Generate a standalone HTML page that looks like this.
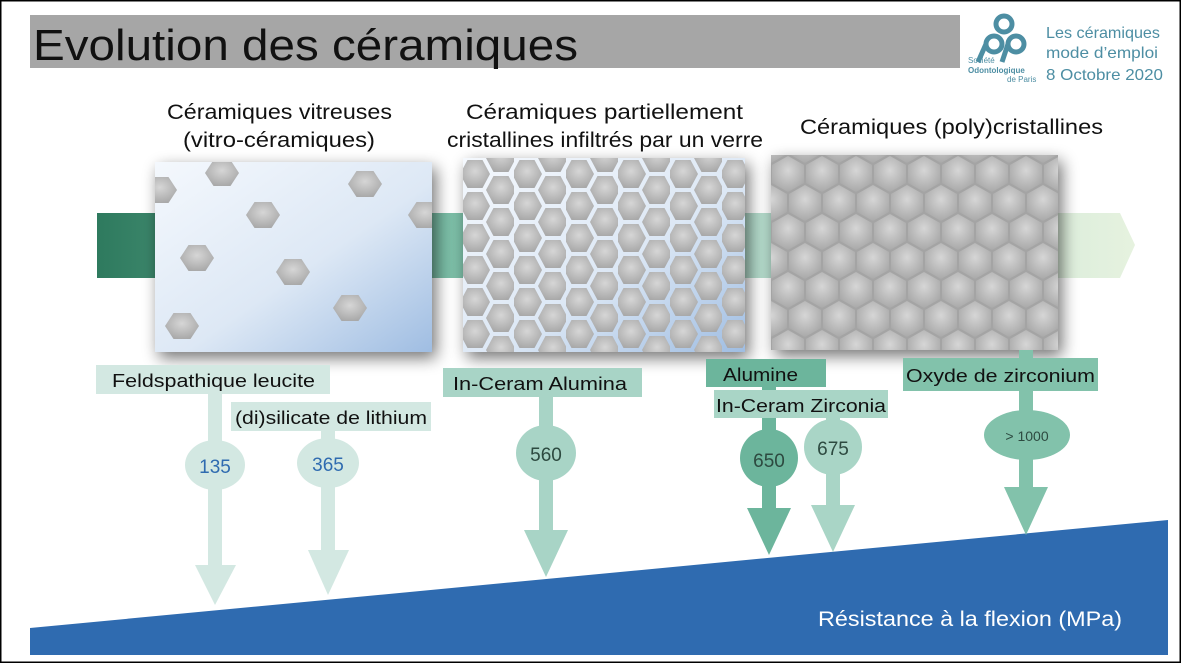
<!DOCTYPE html>
<html><head><meta charset="utf-8"><style>
html,body{margin:0;padding:0;background:#fff}
svg{display:block}
text{font-family:"Liberation Sans",sans-serif}
</style></head><body>
<svg width="1181" height="663" viewBox="0 0 1181 663" xmlns="http://www.w3.org/2000/svg">
<defs>
<radialGradient id="hg" cx="50%" cy="40%" r="60%"><stop offset="0" stop-color="#d6d6d6"/><stop offset="1" stop-color="#a9a9a9"/></radialGradient>
<linearGradient id="band" x1="0" x2="1"><stop offset="0" stop-color="#2e7a5e"/><stop offset="0.35" stop-color="#7dbfa8"/><stop offset="0.7" stop-color="#bfe0d2"/><stop offset="1" stop-color="#e6f2df"/></linearGradient>
<linearGradient id="blue1" x1="0" y1="0" x2="1" y2="1"><stop offset="0" stop-color="#f4f8fd"/><stop offset="0.55" stop-color="#dde8f5"/><stop offset="1" stop-color="#9fbde2"/></linearGradient>
<filter id="sh" x="-20%" y="-20%" width="140%" height="140%"><feGaussianBlur in="SourceAlpha" stdDeviation="8"/><feOffset dx="4" dy="6"/><feComponentTransfer><feFuncA type="linear" slope="0.55"/></feComponentTransfer><feMerge><feMergeNode/><feMergeNode in="SourceGraphic"/></feMerge></filter>
<polygon id="hf" points="-17,0 -8.5,-13 8.5,-13 17,0 8.5,13 -8.5,13" fill="url(#hg)"/>
<polygon id="hb" points="-15,0 -7.5,-14 7.5,-14 15,0 7.5,14 -7.5,14" fill="url(#hg)"/>
<pattern id="p2" width="52" height="32" patternUnits="userSpaceOnUse" x="462" y="158">
<use href="#hb" x="13" y="16"/><use href="#hb" x="39" y="0"/><use href="#hb" x="39" y="32"/>
</pattern>
<pattern id="p3" width="34" height="58" patternUnits="userSpaceOnUse" x="771" y="155">
<polygon points="17,1 33,10 33,28 17,37 1,28 1,10" fill="url(#hg)"/>
<polygon points="0,30 16,39 16,57 0,66 -16,57 -16,39" fill="url(#hg)"/>
<polygon points="34,30 50,39 50,57 34,66 18,57 18,39" fill="url(#hg)"/>
<polygon points="17,59 33,68 33,86 17,95 1,86 1,68" fill="url(#hg)"/>
<polygon points="0,-28 16,-19 16,-1 0,8 -16,-1 -16,-19" fill="url(#hg)"/>
<polygon points="34,-28 50,-19 50,-1 34,8 18,-1 18,-19" fill="url(#hg)"/>
</pattern>
<clipPath id="c1"><rect x="155" y="162" width="277" height="190"/></clipPath>
</defs>
<rect x="0.5" y="0.5" width="1180" height="662" fill="#fff" stroke="#000" stroke-width="2"/>
<rect x="30" y="15" width="930" height="53" fill="#a6a6a6"/>
<text x="33" y="60" font-size="44" fill="#111" textLength="545" lengthAdjust="spacingAndGlyphs">Evolution des céramiques</text>
<!-- logo -->
<g fill="none" stroke="#4d8ea3" stroke-width="5">
<circle cx="1004" cy="24" r="8"/><circle cx="994" cy="44" r="8"/><circle cx="1016" cy="44" r="8"/>
<path d="M986 44 L978 62"/><path d="M1008 44 L1002 62"/>
</g>
<text x="968" y="63" font-size="8" fill="#4d8ea3">Société</text>
<text x="968" y="73" font-size="8" fill="#4d8ea3" font-weight="bold">Odontologique</text>
<text x="1007" y="82" font-size="8" fill="#4d8ea3">de Paris</text>
<text x="1046" y="38" font-size="16" fill="#4d8ea3" textLength="114" lengthAdjust="spacingAndGlyphs">Les céramiques</text>
<text x="1046" y="58" font-size="16" fill="#4d8ea3" textLength="112" lengthAdjust="spacingAndGlyphs">mode d’emploi</text>
<text x="1046" y="80" font-size="16" fill="#4d8ea3" textLength="117" lengthAdjust="spacingAndGlyphs">8 Octobre 2020</text>
<g font-size="21" fill="#111">
<text x="167" y="119" textLength="225" lengthAdjust="spacingAndGlyphs">Céramiques vitreuses</text>
<text x="183" y="147" textLength="192" lengthAdjust="spacingAndGlyphs">(vitro-céramiques)</text>
<text x="466" y="119" textLength="277" lengthAdjust="spacingAndGlyphs">Céramiques partiellement</text>
<text x="447" y="147" textLength="316" lengthAdjust="spacingAndGlyphs">cristallines infiltrés par un verre</text>
<text x="800" y="134" textLength="303" lengthAdjust="spacingAndGlyphs">Céramiques (poly)cristallines</text>
</g>
<polygon points="97,213 1120,213 1135,245 1120,278 97,278" fill="url(#band)"/>
<!-- image 1 -->
<g filter="url(#sh)"><rect x="155" y="162" width="277" height="190" fill="url(#blue1)"/></g>
<g clip-path="url(#c1)">
<use href="#hf" x="160" y="190"/><use href="#hf" x="222" y="173"/><use href="#hf" x="365" y="184"/>
<use href="#hf" x="263" y="215"/><use href="#hf" x="425" y="215"/><use href="#hf" x="197" y="258"/>
<use href="#hf" x="293" y="272"/><use href="#hf" x="350" y="308"/><use href="#hf" x="182" y="326"/>
</g>
<!-- image 2 -->
<g filter="url(#sh)"><rect x="463" y="158" width="282" height="194" fill="url(#blue1)"/></g>
<rect x="463" y="158" width="282" height="194" fill="url(#p2)"/>
<!-- image 3 -->
<g filter="url(#sh)"><rect x="771" y="155" width="287" height="195" fill="#a4a4a4"/></g>
<rect x="771" y="155" width="287" height="195" fill="url(#p3)"/>
<!-- blue ramp -->
<polygon points="30,628 1168,520 1168,655 30,655" fill="#2f6bb0"/>
<text x="818" y="626" font-size="21" fill="#fff" textLength="304" lengthAdjust="spacingAndGlyphs">Résistance à la flexion (MPa)</text>
<!-- arrows -->
<g font-size="18" fill="#111">
<g fill="#d3e8e2"><rect x="208" y="393" width="14" height="172"/><polygon points="195,565 236,565 215,605"/><ellipse cx="215" cy="465" rx="30" ry="25"/>
<rect x="96" y="365" width="234" height="29"/>
<rect x="321" y="430" width="14" height="120"/><polygon points="308,550 349,550 328,595"/><ellipse cx="328" cy="463" rx="31" ry="25"/>
<rect x="231" y="402" width="200" height="29"/></g>
<text x="112" y="387" textLength="203" lengthAdjust="spacingAndGlyphs">Feldspathique leucite</text>
<text x="235" y="424" textLength="192" lengthAdjust="spacingAndGlyphs">(di)silicate de lithium</text>
<text x="215" y="473" text-anchor="middle" fill="#2f6bb0" font-size="19">135</text>
<text x="328" y="471" text-anchor="middle" fill="#2f6bb0" font-size="19">365</text>
<g fill="#a8d4c6"><rect x="539" y="396" width="14" height="134"/><polygon points="524,530 568,530 546,577"/><ellipse cx="546" cy="453" rx="30" ry="28"/>
<rect x="443" y="368" width="199" height="29"/></g>
<text x="453" y="390" textLength="174" lengthAdjust="spacingAndGlyphs">In-Ceram Alumina</text>
<text x="546" y="461" text-anchor="middle" fill="#2d4a40" font-size="19">560</text>
<g fill="#a9d5c6"><rect x="826" y="417" width="14" height="88"/><polygon points="811,505 855,505 833,552"/><ellipse cx="833" cy="447" rx="29" ry="28"/></g>
<g fill="#6cb59c"><rect x="762" y="386" width="14" height="122"/><polygon points="747,508 791,508 769,555"/><ellipse cx="769" cy="458" rx="29" ry="29"/>
<rect x="706" y="359" width="120" height="28"/></g>
<rect x="714" y="390" width="174" height="28" fill="#a9d5c6"/>
<text x="723" y="381" textLength="75" lengthAdjust="spacingAndGlyphs">Alumine</text>
<text x="716" y="412" textLength="170" lengthAdjust="spacingAndGlyphs">In-Ceram Zirconia</text>
<text x="769" y="467" text-anchor="middle" fill="#2d4a40" font-size="19">650</text>
<text x="833" y="455" text-anchor="middle" fill="#2d4a40" font-size="19">675</text>
<g fill="#82c2ab"><rect x="1019" y="350" width="14" height="140"/><polygon points="1004,487 1048,487 1026,535"/><ellipse cx="1027" cy="435" rx="43" ry="25"/>
<rect x="903" y="358" width="195" height="33"/></g>
<text x="906" y="382" textLength="189" lengthAdjust="spacingAndGlyphs">Oxyde de zirconium</text>
<text x="1027" y="441" text-anchor="middle" fill="#2d4a40" font-size="14">&gt; 1000</text>
</g>
</svg>
</body></html>
